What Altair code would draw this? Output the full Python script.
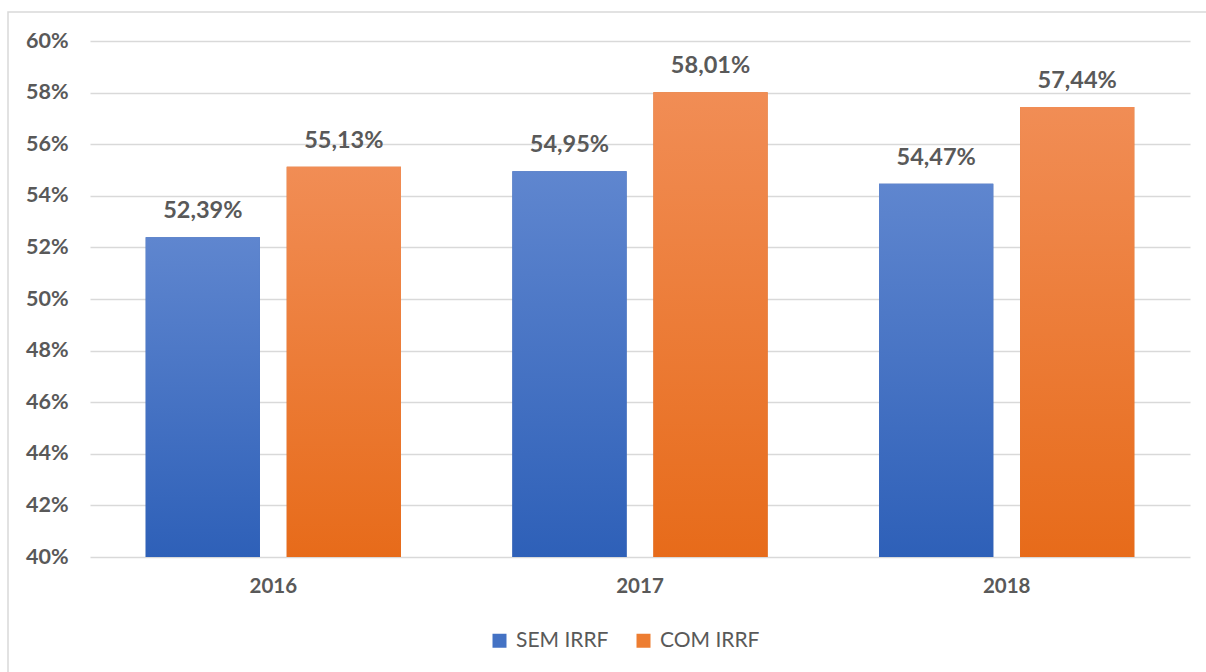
import altair as alt
import pandas as pd

anos = ["2016", "2017", "2018"]
series = ["SEM IRRF", "COM IRRF"]
sem_irrf = [52.39, 54.95, 54.47]
com_irrf = [55.13, 58.01, 57.44]
y_ticks = [40, 42, 44, 46, 48, 50, 52, 54, 56, 58, 60]

rows = []
for i, a in enumerate(anos):
    rows.append(dict(ano=a, serie="SEM IRRF", valor=sem_irrf[i]))
    rows.append(dict(ano=a, serie="COM IRRF", valor=com_irrf[i]))
df = pd.DataFrame(rows)
df["rotulo"] = df["valor"].map(lambda v: f"{v:.2f}".replace(".", ",") + "%")

W, H = 1100, 516
GRAY = "#595959"
FONT = "Lato"

x = alt.X("ano:N", sort=anos,
          scale=alt.Scale(paddingInner=0, paddingOuter=0),
          axis=alt.Axis(title=None, labelAngle=0, domain=False, ticks=False,
                        labelPadding=19, labelFont=FONT, labelFontWeight="bold",
                        labelFontSize=20.5, labelColor=GRAY, grid=False))
xo = alt.XOffset("serie:N", sort=series,
                 scale=alt.Scale(domain=series, paddingInner=0.19, paddingOuter=0.395))
y = alt.Y("valor:Q",
          scale=alt.Scale(domain=[40, 60], nice=False, zero=False),
          axis=alt.Axis(title=None, values=y_ticks, labelExpr="datum.value + '%'",
                        domain=False, ticks=False, gridColor="#D9D9D9", gridWidth=1.3,
                        labelPadding=22, labelFont=FONT, labelFontWeight="bold",
                        labelFontSize=21.5, labelColor=GRAY))
y2 = alt.Y2(datum=40)

base = alt.Chart(df)

legend_layer = base.mark_bar().encode(
    x=x, xOffset=xo, y=y, y2=y2,
    color=alt.Color("serie:N", sort=series,
                    scale=alt.Scale(domain=series, range=["#4472C4", "#ED7D31"]),
                    legend=alt.Legend(title=None, orient="none", legendX=399, legendY=589,
                                      direction="horizontal", symbolType="square",
                                      symbolSize=196, symbolStrokeWidth=0,
                                      labelFont=FONT, labelFontSize=21, labelColor=GRAY,
                                      columnPadding=24, labelOffset=6, padding=0))
)

grad_colors = {
    "SEM IRRF": ("#5F86CF", "#2E60B8"),
    "COM IRRF": ("#F18D55", "#E76B1A"),
}

shadow = base.mark_bar(color="#000000", opacity=0.10, xOffset=2, x2Offset=3).encode(
    x=x, xOffset=xo, y=y, y2=y2)

grad_layers = []
for s in series:
    top, bot = grad_colors[s]
    grad_layers.append(
        base.transform_filter(alt.datum.serie == s).mark_bar(
            fill=alt.Gradient(gradient="linear",
                              stops=[alt.GradientStop(color=top, offset=0),
                                     alt.GradientStop(color=bot, offset=1)],
                              x1=0, x2=0, y1=0, y2=1)
        ).encode(x=x, xOffset=xo, y=y, y2=y2)
    )

labels = base.mark_text(dy=-19, baseline="alphabetic", font=FONT, fontWeight="bold",
                        fontSize=23.5, color=GRAY).encode(
    x=x, xOffset=xo, y=y, text="rotulo:N")

border = alt.Chart(pd.DataFrame({"k": [0]})).mark_rect(
    fill=None, stroke="#D9D9D9", strokeWidth=1.5).encode(
    x=alt.value(-82), x2=alt.value(1130), y=alt.value(-29), y2=alt.value(645))

chart = alt.layer(border, legend_layer, shadow, *grad_layers, labels).properties(
    width=W, height=H,
    autosize=alt.AutoSizeParams(type="none"),
    padding={"left": 90, "top": 41, "right": 16, "bottom": 115},
    background="white",
).configure_view(stroke=None)

chart.save("out.html", embed_options={"renderer": "svg", "actions": False})
